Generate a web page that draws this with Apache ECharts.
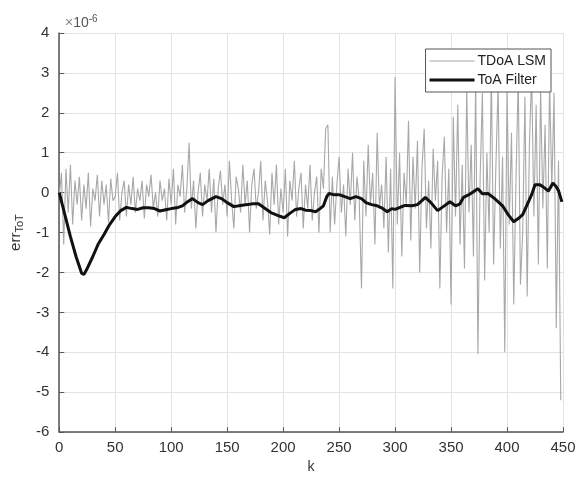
<!DOCTYPE html>
<html>
<head>
<meta charset="utf-8">
<script src="https://cdn.jsdelivr.net/npm/echarts@6/dist/echarts.min.js"></script>
<style>
  html, body { margin: 0; padding: 0; background: #fff; }
  #chart { width: 580px; height: 479px; }
</style>
</head>
<body>
<div id="chart"></div>
<script>
// TDoA LSM error, one sample every 2 k (units of 1e-6)
const lsmStep = 2
const lsmVal = [
  -0.1, 0.5, -1.3, 0.6, -0.5, 0.7, -0.8, 0.3, -0.3, 0.4, -0.7, 0.2, -0.4, 0.5, -0.85, 0.1, -0.2, 0.45, -0.6, 0.3, -0.3, 0.2, -0.75, 0.35, -0.2,
  -0.1, 0.5, -0.7, 0.0, 0.3, -0.6, 0.2, -0.3, 0.4, -0.5, 0.1, -0.2, 0.3, -0.65, 0.2, -0.1, 0.45, -0.4, 0.0, -0.6, 0.3, -0.2, 0.1, -0.7, 0.35,
  -0.3, 0.6, -0.8, 0.2, -0.1, 0.7, -0.5, 0.1, 1.25, -0.4, 0.3, -0.9, 0.0, 0.5, -0.6, 0.2, -0.2, 0.6, -0.5, 0.35, -1.0, 0.1, 0.55, -0.3, 0.2,
  -0.6, 0.8, -0.2, -0.9, 0.4, 0.1, -0.5, 0.7, -0.3, 0.3, -1.0, 0.2, 0.6, -0.4, 0.0, 0.8, -0.7, 0.3, -0.2, -1.05, 0.5, -0.3, 0.7, -0.8, 0.1,
  -0.5, 0.6, -1.1, 0.3, -0.2, 0.8, -0.6, 0.1, 0.5, -0.9, 0.2, -0.4, 0.7, -0.7, 0.0, 0.4, -1.0, 0.6, 0.1, 1.6, 1.7, -1.0, 0.4, -0.8, 0.2,
  0.9, -0.5, 0.2, -1.1, 0.6, -0.3, 1.0, -0.7, 0.4, -0.2, -2.4, 0.8, -0.6, 1.2, -0.3, 0.5, -1.3, 1.5, -0.4, 0.2, -0.9, 0.9, -1.5, 0.6, -2.4,
  2.9, -0.8, 1.0, -1.6, 0.5, -0.3, 1.8, -1.2, 0.9, -0.4, 1.3, -2.0, 0.6, 1.6, -0.9, 0.3, -1.4, 1.1, -0.2, 0.8, -2.4, 0.4, 1.4, -1.0, 0.6,
  -2.8, 1.9, -0.6, 2.2, -1.3, 0.7, -1.9, 2.6, -0.5, 1.2, -1.6, 2.8, -4.05, 0.4, 2.5, -2.2, 1.0, -1.0, 3.0, -1.8, 0.6, 2.7, -1.4, 0.9, -4.0,
  2.6, -0.8, 1.5, -2.8, 0.3, 2.9, -2.3, -1.0, 2.4, -2.6, 1.2, 3.0, -0.6, 2.2, -1.8, 2.6, -0.4, 1.7, -1.9, 2.8, 0.1, 2.5, -3.4, 0.8, -5.2
]

// ToA Filter error
const filterK = [
  0, 5, 10, 15, 20, 22, 25, 30, 35, 40, 45, 50, 55, 60, 65, 70, 75, 80, 85, 90, 95, 100,
  105, 110, 115, 119, 124, 128, 133, 140, 145, 150, 156, 162, 168, 173, 178, 183, 189, 195, 201,
  206, 211, 216, 220, 225, 229, 233, 236, 239, 241, 245, 250, 255, 260, 265, 270, 274, 279, 283,
  288, 293, 297, 300, 305, 309, 315, 320, 324, 327, 332, 338, 343, 349, 354, 358, 361, 366, 370,
  374, 378, 383, 389, 396, 401, 406, 410, 414, 418, 422, 425, 429, 432, 437, 441, 444, 446, 449
]
const filterVal = [
  0, -0.55, -1.1, -1.6, -2.02, -2.05, -1.9, -1.6, -1.28, -1.05, -0.8, -0.6, -0.45, -0.37, -0.4, -0.42, -0.38, -0.38, -0.4, -0.46, -0.43, -0.4,
  -0.38, -0.33, -0.22, -0.15, -0.25, -0.3, -0.2, -0.1, -0.15, -0.25, -0.35, -0.32, -0.3, -0.28, -0.28, -0.38, -0.5, -0.57, -0.63,
  -0.52, -0.42, -0.4, -0.44, -0.45, -0.48, -0.4, -0.33, -0.1, -0.02, -0.05, -0.05, -0.1, -0.15, -0.1, -0.15, -0.25, -0.3, -0.32,
  -0.38, -0.48, -0.4, -0.42, -0.36, -0.32, -0.33, -0.3, -0.2, -0.12, -0.25, -0.45, -0.35, -0.23, -0.33, -0.28, -0.12, -0.05, 0.02,
  0.1, -0.03, -0.02, -0.15, -0.33, -0.55, -0.73, -0.65, -0.55, -0.3, -0.05, 0.2, 0.2, 0.15, 0.04, 0.24, 0.15, 0.05, -0.23
]

const xTicks = { min: 0, max: 450, interval: 50 }
const yTicks = { min: -6, max: 4, interval: 1 }

const font = 'Liberation Sans'
const chart = echarts.init(document.getElementById('chart'))

chart.setOption({
  animation: false,
  textStyle: { fontFamily: font },
  title: {
    text: '{m|×}10{sup|-6}',
    left: 60,
    top: 9,
    textStyle: {
      fontSize: 14,
      fontWeight: 'normal',
      color: '#555',
      rich: {
        m: { fontSize: 14, color: '#888' },
        sup: { fontSize: 10, color: '#555', verticalAlign: 'top', padding: [0, 0, 8, 0] }
      }
    }
  },
  grid: { left: 58, right: 17, top: 33, bottom: 44 },
  legend: {
    orient: 'vertical',
    right: 29,
    top: 49,
    padding: [5, 5, 5, 4],
    itemGap: 5,
    itemWidth: 45,
    itemHeight: 14,
    backgroundColor: '#fff',
    borderColor: '#555',
    borderWidth: 1,
    borderRadius: 0,
    textStyle: { fontSize: 14, color: '#222', fontFamily: font, padding: [0, 0, 0, -2] },
    data: [
      { name: 'TDoA LSM', icon: 'path://M0,6 L45,6 L45,7 L0,7 Z' },
      { name: 'ToA Filter', icon: 'path://M0,5 L45,5 L45,8 L0,8 Z' }
    ]
  },
  xAxis: {
    type: 'value',
    min: xTicks.min,
    max: xTicks.max,
    interval: xTicks.interval,
    name: 'k',
    nameLocation: 'middle',
    nameGap: 27,
    nameTextStyle: { fontSize: 14, color: '#333' },
    axisLine: { onZero: false, lineStyle: { color: '#555', width: 1.5 } },
    axisTick: { inside: true, length: 5, lineStyle: { color: '#555' } },
    axisLabel: { fontSize: 15, color: '#333', margin: 8 },
    splitLine: { show: true, lineStyle: { color: '#e3e3e3', width: 1 } }
  },
  yAxis: {
    type: 'value',
    min: yTicks.min,
    max: yTicks.max,
    interval: yTicks.interval,
    name: 'err{sub|ToT}',
    nameLocation: 'middle',
    nameGap: 34,
    nameTextStyle: {
      fontSize: 15,
      color: '#333',
      rich: {
        sub: { fontSize: 11, color: '#333', verticalAlign: 'bottom', padding: [8, 0, 0, 0] }
      }
    },
    axisLine: { show: true, onZero: false, lineStyle: { color: '#555', width: 1.5 } },
    axisTick: { show: true, inside: true, length: 5, lineStyle: { color: '#555' } },
    axisLabel: { fontSize: 15, color: '#333', margin: 10 },
    splitLine: { show: true, lineStyle: { color: '#e3e3e3', width: 1 } }
  },
  series: [
    {
      name: 'TDoA LSM',
      type: 'line',
      showSymbol: false,
      color: '#a8a8a8',
      lineStyle: { color: '#a8a8a8', width: 1.1 },
      data: lsmVal.map((v, i) => [i * lsmStep, v]),
      z: 2
    },
    {
      name: 'ToA Filter',
      type: 'line',
      showSymbol: false,
      color: '#111',
      lineStyle: { color: '#111', width: 3 },
      data: filterK.map((k, i) => [k, filterVal[i]]),
      z: 3
    }
  ]
})
</script>
</body>
</html>
